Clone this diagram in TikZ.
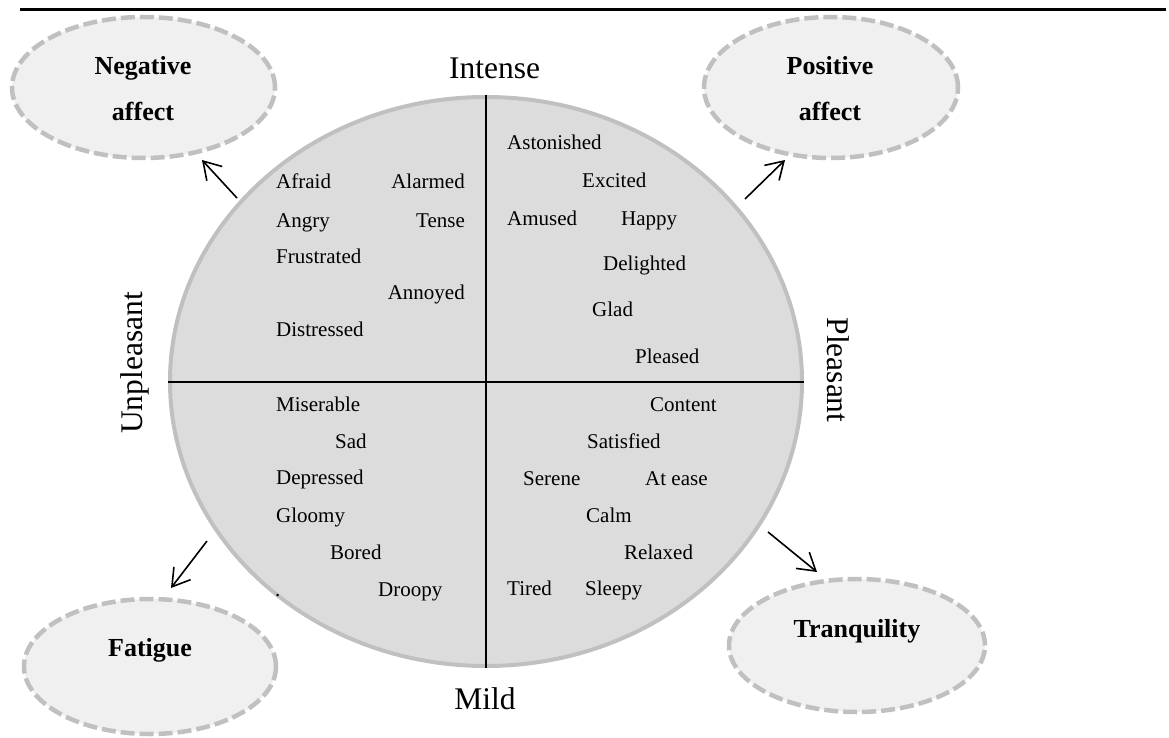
\documentclass[tikz,border=0pt]{standalone}
\usepackage{fontspec}
\setmainfont{Liberation Serif}
\usetikzlibrary{shapes.geometric,arrows.meta}
\definecolor{circfill}{HTML}{DCDCDC}
\definecolor{edgegray}{HTML}{C0C0C0}
\definecolor{ellfill}{HTML}{F0F0F0}
\begin{document}
\begin{tikzpicture}[x=1pt,y=-1pt,
  word/.style={anchor=base west, inner sep=0pt, font=\fontsize{21}{25}\selectfont},
  wordr/.style={anchor=base east, inner sep=0pt, font=\fontsize{21}{25}\selectfont},
  axislabel/.style={inner sep=0pt, font=\fontsize{31.5}{36}\selectfont},
  cloud/.style={ellipse, draw=edgegray, fill=ellfill, line width=4.5pt, dash pattern=on 14pt off 5pt, inner sep=0pt},
  cloudtext/.style={anchor=base, inner sep=0pt, font=\bfseries\fontsize{26}{30}\selectfont},
  pointer/.style={-{Straight Barb[length=17pt,width=21pt]}, line width=1.6pt},
  divider/.style={line width=2pt}
]
\useasboundingbox (0,0) rectangle (1169,738);

% top rule
\coordinate (ruleL) at (20,10);
\coordinate (ruleR) at (1166,10);
\draw[line width=3pt] (ruleL) -- (ruleR);

% circle
\node[ellipse, draw=edgegray, fill=circfill, line width=4pt, inner sep=0pt,
      minimum width=632pt, minimum height=569pt] (circ) at (486,381.5) {};
\draw[divider] (circ.north) -- (circ.south);
\draw[divider] (circ.west) -- (circ.east);

% axis labels
\node[axislabel, anchor=base] (intense) at (494.5,79) {Intense};
\node[axislabel, anchor=base] (mild) at (485,709) {Mild};
\node[axislabel, rotate=90] (unpl) at (135,363) {Unpleasant};
\node[axislabel, rotate=-90] (pl) at (838,370) {Pleasant};

% quadrant I (upper left)
\node[word] (afraid) at (276,189) {Afraid};
\node[wordr] (alarmed) at (465,189) {Alarmed};
\node[word] (angry) at (276,227) {Angry};
\node[wordr] (tense) at (465,227) {Tense};
\node[word] (frustrated) at (276,263) {Frustrated};
\node[wordr] (annoyed) at (465,299) {Annoyed};
\node[word] (distressed) at (276,336) {Distressed};

% quadrant II (upper right)
\node[word] (astonished) at (507,150) {Astonished};
\node[word] (excited) at (582,188) {Excited};
\node[word] (amused) at (507,225) {Amused};
\node[word] (happy) at (621,225) {Happy};
\node[word] (delighted) at (603,270) {Delighted};
\node[word] (glad) at (592,316) {Glad};
\node[word] (pleased) at (635,363) {Pleased};

% quadrant III (lower left)
\node[word] (miserable) at (276,411) {Miserable};
\node[word] (sad) at (335,448) {Sad};
\node[word] (depressed) at (276,484) {Depressed};
\node[word] (gloomy) at (276,522) {Gloomy};
\node[word] (bored) at (330,559) {Bored};
\node[word] (droopy) at (378,596) {Droopy};
\node[word] (dot) at (275,596) {.};

% quadrant IV (lower right)
\node[word] (content) at (650,411) {Content};
\node[word] (satisfied) at (587,448) {Satisfied};
\node[word] (serene) at (523,485) {Serene};
\node[word] (atease) at (645,485) {At ease};
\node[word] (calm) at (586,522) {Calm};
\node[word] (relaxed) at (624,559) {Relaxed};
\node[word] (tired) at (507,595) {Tired};
\node[word] (sleepy) at (585,595) {Sleepy};

% outcome ellipses
\node[cloud, minimum width=263pt, minimum height=141pt] (neg) at (143.5,87.5) {};
\node[cloud, minimum width=254pt, minimum height=141pt] (pos) at (831,87.5) {};
\node[cloud, minimum width=252pt, minimum height=135pt] (fat) at (150,666.5) {};
\node[cloud, minimum width=256pt, minimum height=133pt] (tra) at (857,645.5) {};

\node[cloudtext] (negA) at (143,75) {Negative};
\node[cloudtext] (negB) at (143,121) {affect};
\node[cloudtext] (posA) at (830,75) {Positive};
\node[cloudtext] (posB) at (830,121) {affect};
\node[cloudtext] (fatT) at (150,656) {Fatigue};
\node[cloudtext] (traT) at (857,637) {Tranquility};

% arrows
\coordinate (negS) at (237,198);
\coordinate (negE) at (202,160);
\coordinate (posS) at (745,199);
\coordinate (posE) at (785,160);
\coordinate (fatS) at (207,541);
\coordinate (fatE) at (171,588);
\coordinate (traS) at (768,532);
\coordinate (traE) at (817,572);
\draw[pointer] (negS) -- (negE);
\draw[pointer] (posS) -- (posE);
\draw[pointer] (fatS) -- (fatE);
\draw[pointer] (traS) -- (traE);
\end{tikzpicture}
\end{document}
